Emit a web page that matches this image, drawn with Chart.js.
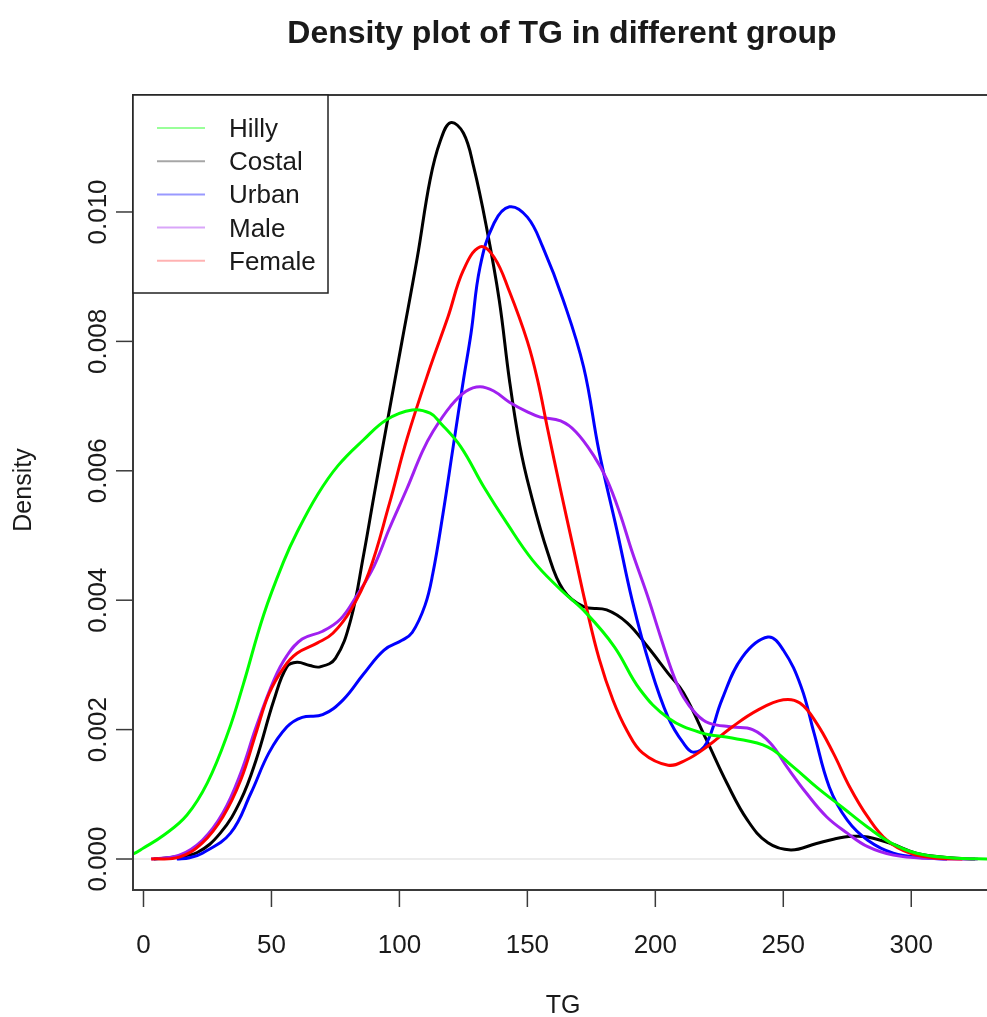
<!DOCTYPE html>
<html>
<head>
<meta charset="utf-8">
<script src="https://cdn.jsdelivr.net/npm/chart.js@4.4.0/dist/chart.umd.min.js"></script>
<style>
  html, body { margin: 0; padding: 0; background: #fff; overflow: hidden; }
</style>
</head>
<body>
<canvas id="densityChart" width="987" height="1017"></canvas>
<script>
// density estimates: TG value -> density
const hillyTG = [-10, -4, 0, 8, 17, 25, 33, 39, 47, 55, 60, 68, 76, 86, 95, 105, 112, 116, 124, 133, 142, 152, 162, 173, 184, 194, 205, 218, 230, 244, 254, 263, 273, 283, 292, 302, 315, 330, 340]
const hillyDensity = [0.00003, 0.00008, 0.00017, 0.00037, 0.00068, 0.00118, 0.00195, 0.0027, 0.00378, 0.00462, 0.00505, 0.00563, 0.00608, 0.00648, 0.00679, 0.00694, 0.00689, 0.00674, 0.00637, 0.00575, 0.00519, 0.00462, 0.0042, 0.0038, 0.00328, 0.00262, 0.00218, 0.00195, 0.00187, 0.00173, 0.00142, 0.00111, 0.0008, 0.00049, 0.00025, 0.00009, 0.00002, 0, 0]

const costalTG = [4, 12, 21, 30, 38, 44, 51, 56, 60, 65, 69, 75, 81, 86, 90, 95, 101, 107, 112, 116, 120, 125, 129, 134, 139, 143, 147, 151, 158, 164, 172, 181, 189, 197, 205, 211, 220, 228, 236, 244, 253, 263, 270, 277, 283, 292, 302, 315, 325]
const costalDensity = [0, 0.00003, 0.0001, 0.0004, 0.00091, 0.00153, 0.00246, 0.00297, 0.00304, 0.00299, 0.00297, 0.0031, 0.0037, 0.0047, 0.0056, 0.0067, 0.008, 0.0093, 0.0105, 0.0111, 0.01138, 0.01122, 0.0107, 0.00977, 0.00864, 0.0074, 0.0064, 0.0057, 0.00473, 0.00416, 0.0039, 0.00385, 0.00365, 0.00328, 0.00287, 0.00257, 0.00184, 0.00117, 0.0006, 0.00025, 0.00014, 0.00024, 0.00031, 0.00035, 0.00034, 0.00024, 0.00009, 0.00002, 0]

const urbanTG = [13, 18, 23, 34, 42, 49, 56, 62, 70, 78, 86, 94, 101, 105, 110, 113, 117, 121, 125, 128, 131.5, 137, 143, 150, 156, 164, 172, 178, 185, 191, 198, 205, 211, 215, 220, 226, 234, 244, 250, 257, 262, 268, 275, 283, 293, 305, 314]
const urbanDensity = [0, 0.00002, 0.00009, 0.0004, 0.00102, 0.00164, 0.00204, 0.00219, 0.00223, 0.00246, 0.00286, 0.00323, 0.00338, 0.0035, 0.00392, 0.0044, 0.00533, 0.00637, 0.0074, 0.00813, 0.00915, 0.00983, 0.01008, 0.00992, 0.00946, 0.00864, 0.0076, 0.0063, 0.00508, 0.00399, 0.00297, 0.00219, 0.00179, 0.00165, 0.00179, 0.00246, 0.00312, 0.00343, 0.00323, 0.00266, 0.00195, 0.00111, 0.0006, 0.00029, 0.00009, 0.00002, 0]

const maleTG = [3, 14, 23, 31, 38, 44, 51, 56, 62, 70, 77, 83, 90, 96, 103, 109, 113, 120, 126, 131.5, 137, 143, 150, 155, 163, 169, 176, 181, 186, 191, 197, 202, 207, 211, 216, 221, 230, 238, 245, 251.5, 259, 267, 275, 283, 293, 306, 326]
const maleDensity = [0, 0.00006, 0.00029, 0.00071, 0.00133, 0.00204, 0.00277, 0.00314, 0.0034, 0.00352, 0.00371, 0.00405, 0.00452, 0.0051, 0.00573, 0.0063, 0.0066, 0.007, 0.00723, 0.0073, 0.00723, 0.00706, 0.00691, 0.00683, 0.00677, 0.0066, 0.00623, 0.00587, 0.00536, 0.00474, 0.00406, 0.00344, 0.00285, 0.0025, 0.00224, 0.0021, 0.00204, 0.002, 0.00179, 0.00142, 0.00102, 0.00065, 0.0004, 0.00019, 0.00006, 0.00001, 0]

const femaleTG = [3, 14, 23, 31, 38, 44, 49, 55, 60, 68, 74, 81, 88, 96, 103, 112, 119, 125, 131.5, 137, 143, 150, 154, 158, 163, 168, 173, 178, 183.5, 189, 195, 205, 212, 220, 230, 240, 250, 256.5, 263, 269.5, 276, 283, 290.5, 299.5, 308.5, 320]
const femaleDensity = [0, 0.00003, 0.00025, 0.00065, 0.00122, 0.00195, 0.00255, 0.00297, 0.00318, 0.00334, 0.00349, 0.00385, 0.00442, 0.00548, 0.0065, 0.0076, 0.00838, 0.0091, 0.00946, 0.0093, 0.00877, 0.008, 0.0074, 0.00663, 0.0057, 0.0048, 0.0039, 0.0031, 0.00245, 0.00198, 0.00164, 0.00145, 0.00153, 0.00173, 0.00204, 0.0023, 0.00246, 0.00241, 0.0021, 0.00164, 0.00111, 0.00065, 0.00029, 0.00009, 0.00002, 0]

const groupNames = ['Hilly', 'Costal', 'Urban', 'Male', 'Female']
const groupColors = ['#00ff00', '#000000', '#0000ff', '#a020f0', '#ff0000']
const legendColors = ['rgba(0,255,0,0.4)', 'rgba(0,0,0,0.35)', 'rgba(0,0,255,0.4)', 'rgba(160,32,240,0.4)', 'rgba(255,0,0,0.3)']

const xTicks = [0, 50, 100, 150, 200, 250, 300]
const yTicks = [0, 0.002, 0.004, 0.006, 0.008, 0.010]
const yTickLabels = ['0.000', '0.002', '0.004', '0.006', '0.008', '0.010']

const titleText = 'Density plot of TG in different group'
const xTitle = 'TG'
const yTitle = 'Density'

const FONT = '"Liberation Sans", Arial, Helvetica, sans-serif'

const pts = (xs, ys) => xs.map((x, i) => ({ x: x, y: ys[i] }))
const series = [
  pts(hillyTG, hillyDensity),
  pts(costalTG, costalDensity),
  pts(urbanTG, urbanDensity),
  pts(maleTG, maleDensity),
  pts(femaleTG, femaleDensity)
]
// which curve sits on top (lower = drawn later)
const drawOrder = [0, 4, 3, 2, 1]

function text(ctx, str, x, y, font, align, baseline, angle) {
  ctx.save()
  ctx.translate(x, y)
  if (angle) ctx.rotate(angle)
  ctx.font = font
  ctx.textAlign = align
  ctx.textBaseline = baseline
  ctx.fillStyle = '#1a1a1a'
  ctx.fillText(str, 0, 0)
  ctx.restore()
}

const rDecorations = {
  id: 'rDecorations',
  beforeDatasetsDraw: chart => {
    const ctx = chart.ctx
    const area = chart.chartArea
    const y0 = chart.scales.y.getPixelForValue(0)
    // faint zero line like plot.density
    ctx.save()
    ctx.strokeStyle = 'rgba(200,200,200,0.35)'
    ctx.lineWidth = 2
    ctx.beginPath()
    ctx.moveTo(area.left, y0)
    ctx.lineTo(area.right, y0)
    ctx.stroke()
    ctx.restore()
  },
  afterDraw: chart => {
    const ctx = chart.ctx
    const area = chart.chartArea
    const xScale = chart.scales.x
    const yScale = chart.scales.y

    ctx.save()
    ctx.strokeStyle = '#3a3a3a'
    ctx.lineWidth = 2
    // box
    ctx.beginPath()
    ctx.moveTo(area.right + 5, area.top)
    ctx.lineTo(area.left, area.top)
    ctx.lineTo(area.left, area.bottom)
    ctx.lineTo(area.right + 5, area.bottom)
    ctx.stroke()

    // x ticks
    ctx.lineWidth = 1.5
    xTicks.forEach(v => {
      const px = xScale.getPixelForValue(v)
      ctx.beginPath()
      ctx.moveTo(px, area.bottom)
      ctx.lineTo(px, area.bottom + 17)
      ctx.stroke()
      text(ctx, String(v), px, 953, '26px ' + FONT, 'center', 'alphabetic')
    })
    // y ticks
    yTicks.forEach((v, i) => {
      const py = yScale.getPixelForValue(v)
      ctx.beginPath()
      ctx.moveTo(area.left, py)
      ctx.lineTo(area.left - 17, py)
      ctx.stroke()
      text(ctx, yTickLabels[i], 106, py, '26px ' + FONT, 'center', 'alphabetic', -Math.PI / 2)
    })
    ctx.restore()

    // titles
    text(ctx, titleText, 562, 43, 'bold 32px ' + FONT, 'center', 'alphabetic')
    text(ctx, xTitle, 563, 1013, '25px ' + FONT, 'center', 'alphabetic')
    text(ctx, yTitle, 31, 490, '25px ' + FONT, 'center', 'alphabetic', -Math.PI / 2)

    // legend box, top left
    ctx.save()
    ctx.fillStyle = '#ffffff'
    ctx.fillRect(area.left, area.top, 195, 198)
    ctx.strokeStyle = '#222'
    ctx.lineWidth = 1.5
    ctx.strokeRect(area.left, area.top, 195, 198)
    groupNames.forEach((name, i) => {
      const ly = area.top + 33 + i * 33.2
      ctx.strokeStyle = legendColors[i]
      ctx.lineWidth = 2
      ctx.beginPath()
      ctx.moveTo(area.left + 24, ly)
      ctx.lineTo(area.left + 72, ly)
      ctx.stroke()
      text(ctx, name, area.left + 96, ly + 9, '26px ' + FONT, 'left', 'alphabetic')
    })
    ctx.restore()
  }
}

const ctx = document.getElementById('densityChart').getContext('2d')
const densityChart = new Chart(ctx, {
  type: 'line',
  data: {
    datasets: series.map((data, i) => ({
      label: groupNames[i],
      data: data,
      borderColor: groupColors[i],
      borderWidth: 3,
      pointRadius: 0,
      fill: false,
      tension: 0.4,
      order: drawOrder[i]
    }))
  },
  options: {
    responsive: false,
    animation: false,
    layout: { padding: { left: 133, top: 95, right: 0, bottom: 127 } },
    plugins: {
      legend: { display: false },
      tooltip: { enabled: false },
      title: { display: false }
    },
    scales: {
      x: { type: 'linear', min: -4.1, max: 329.6, display: false },
      y: { type: 'linear', min: -0.000479, max: 0.011808, display: false }
    }
  },
  plugins: [rDecorations]
})
</script>
</body>
</html>
